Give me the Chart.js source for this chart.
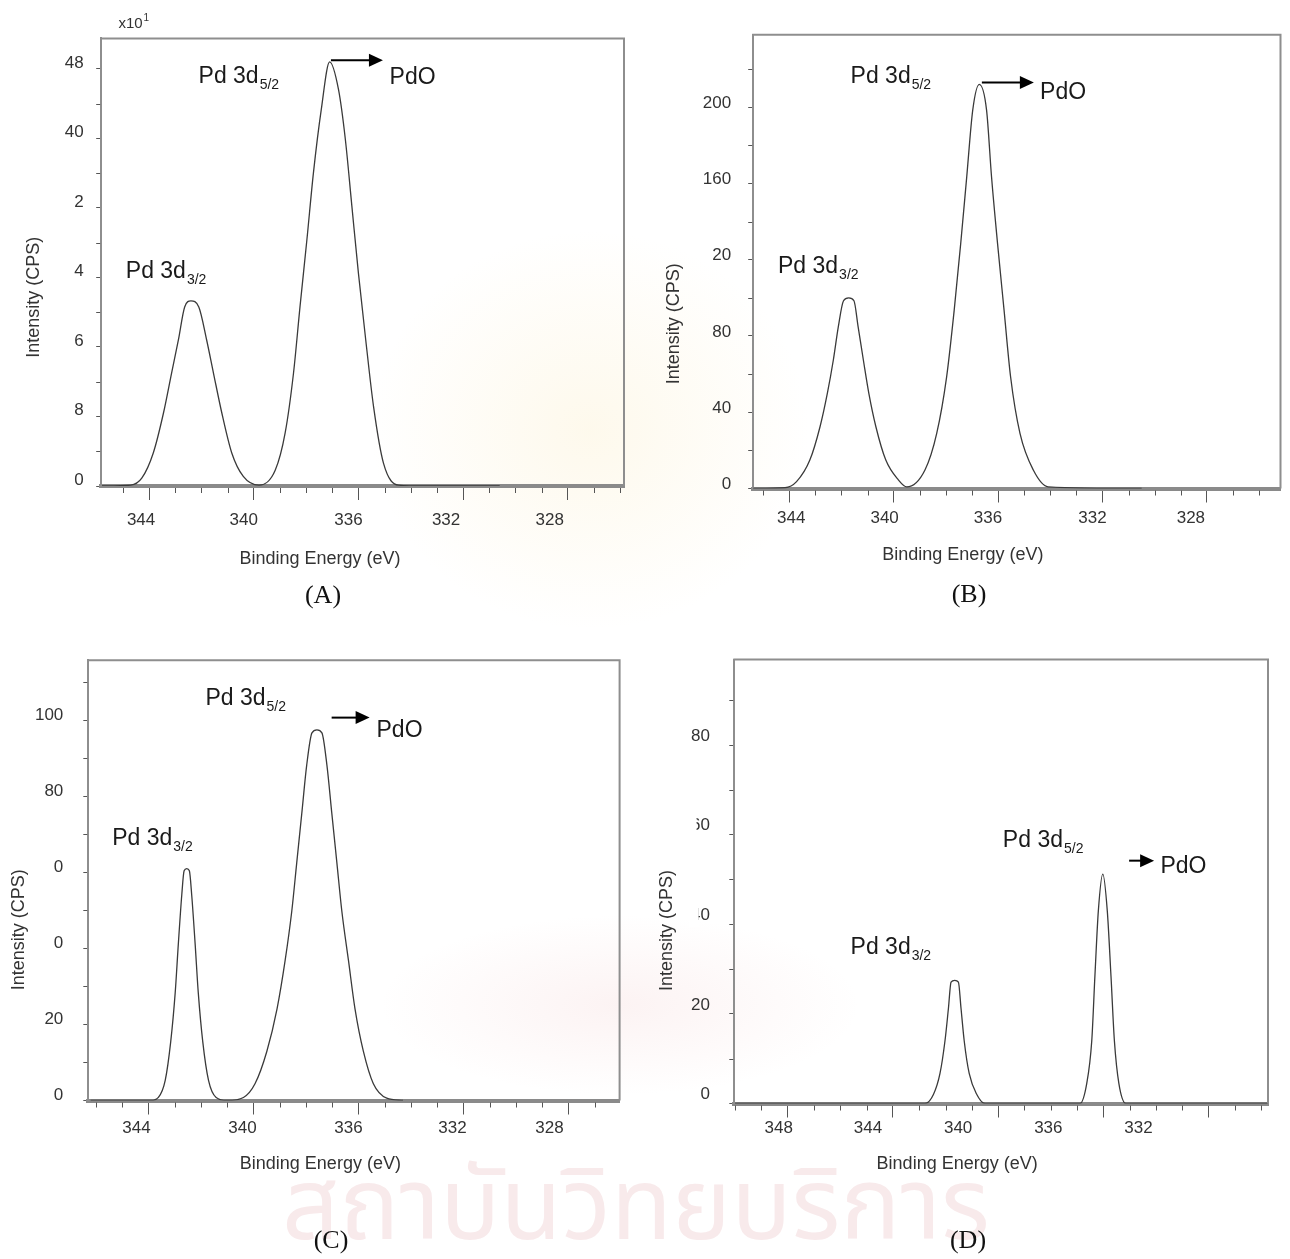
<!DOCTYPE html>
<html lang="en">
<head>
<meta charset="utf-8">
<title>Pd 3d XPS spectra</title>
<script src="https://cdn.jsdelivr.net/npm/chart.js@4.4.1/dist/chart.umd.min.js"></script>
<style>
  html, body { margin: 0; padding: 0; background: #fff; }
  #page {
    position: relative; width: 1290px; height: 1259px; overflow: hidden;
    background:
      radial-gradient(ellipse 220px 200px at 590px 430px, rgba(248, 222, 150, 0.18), rgba(248, 222, 150, 0) 100%),
      radial-gradient(ellipse 240px 90px at 620px 1005px, rgba(235, 170, 170, 0.14), rgba(235, 170, 170, 0) 100%),
      #fff;
  }
  canvas { position: absolute; }
  .tag { position: absolute; transform: translate(-50%, -50%); font: 26px "Liberation Serif", "Times New Roman", serif; color: #111; }
  .wm { position: absolute; left: 282px; top: 1133px; font: 100px "Noto Sans Thai", "Noto Sans", sans-serif; color: #f8eaeb; white-space: nowrap; }
</style>
</head>
<body>
<div id="page">
  <div class="wm">สถาบันวิทยบริการ</div>
  <canvas id="chartA" width="640" height="620" style="left:0;top:0"></canvas>
  <canvas id="chartB" width="645" height="620" style="left:645px;top:0"></canvas>
  <canvas id="chartC" width="640" height="629" style="left:0;top:630px"></canvas>
  <canvas id="chartD" width="645" height="629" style="left:645px;top:630px"></canvas>
  <div class="tag" style="left:323px;top:595px">(A)</div>
  <div class="tag" style="left:969px;top:594px">(B)</div>
  <div class="tag" style="left:331px;top:1240px">(C)</div>
  <div class="tag" style="left:968px;top:1240px">(D)</div>
</div>
<script>
const FONT = '"Liberation Sans", Arial, sans-serif';

// (A)  intensity in units of x10 CPS
const aEnergy = [345.8, 344.7, 344.28, 343.84, 343.45, 343.14, 342.88, 342.64, 342.4, 342.1, 341.8, 341.54, 341.22, 340.84, 340.4, 339.8,
  339.18, 338.8, 338.48, 338.23, 337.97, 337.72, 337.42, 337.1, 336.76, 336.5, 336.25, 336.0, 335.72, 335.42, 335.04, 334.47, 333.5, 330.6];
const aCounts = [0, 0.1, 0.9, 3.8, 8.4, 13.0, 16.8, 20.6, 21.3, 20.6, 16.8, 13.0, 8.4, 3.8, 1.1, 0.1,
  1.8, 6.1, 13.0, 20.7, 28.3, 36.0, 43.3, 48.8, 45.6, 39.9, 32.2, 24.5, 16.8, 9.1, 2.6, 0.1, 0, 0];
const aXTicks = [344, 340, 336, 332, 328];
const aYTicks = [0, 8, 16, 24, 32, 40, 48];
const aYLabels = ['0', '8', '6', '4', '2', '40', '48'];   // first digits are cut off in the original

// (B)
const bEnergy = [345.4, 344.16, 343.72, 343.21, 342.82, 342.54, 342.31, 342.12, 341.92, 341.72, 341.52, 341.36, 341.16, 340.95, 340.68, 340.3, 339.82, 339.5,
  338.8, 338.35, 337.97, 337.68, 337.43, 337.2, 336.97, 336.72, 336.44, 336.25, 336.02, 335.77, 335.52, 335.16, 334.65, 334.08, 330.5];
const bCounts = [0, 0.4, 3.6, 14.9, 32.4, 49.9, 67.4, 84.8, 98.5, 100, 98.5, 84.8, 67.4, 49.9, 32.4, 14.9, 4.5, 0.8,
  9.7, 28.9, 58.6, 93.6, 128.6, 163.5, 198.5, 212, 198.5, 163.5, 128.6, 93.6, 58.6, 28.9, 9.7, 0.9, 0];
const bXTicks = [344, 340, 336, 332, 328];
const bYTicks = [0, 40, 80, 120, 160, 200];
const bYLabels = ['0', '40', '80', '20', '160', '200'];

// (C)
const cEnergy = [346.2, 343.9, 343.62, 343.36, 343.15, 342.98, 342.86, 342.73, 342.64, 342.54, 342.44, 342.35, 342.22, 342.1, 341.93, 341.71, 341.42, 341.0,
  340.38, 339.94, 339.49, 339.1, 338.79, 338.54, 338.35, 338.16, 337.97, 337.77, 337.58, 337.39, 337.2, 337.01, 336.82, 336.63, 336.38, 336.13, 335.81, 335.43, 334.92, 334.3];
const cCounts = [0, 0, 0.8, 5.3, 15.5, 28.3, 41.2, 54, 60.4, 61, 60.4, 54, 41.2, 28.3, 15.5, 5.3, 0.8, 0,
  0.8, 4.4, 12.9, 24.1, 36.9, 49.7, 62.5, 75.3, 88.2, 96.7, 97.5, 96.7, 88.2, 75.3, 62.5, 49.7, 36.9, 24.1, 12.9, 4.4, 0.6, 0];
const cXTicks = [344, 340, 336, 332, 328];
const cYTicks = [0, 20, 40, 60, 80, 100];
const cYLabels = ['0', '20', '0', '0', '80', '100'];

// (D)
const dEnergy = [350.0, 342.78, 342.46, 342.21, 342.02, 341.89, 341.79, 341.65, 341.51, 341.41, 341.29, 341.1, 340.81, 340.5,
  336.89, 336.63, 336.44, 336.32, 336.19, 336.02, 335.85, 335.71, 335.58, 335.41, 335.14, 329.7];
const dCounts = [0, 0, 2.0, 6.7, 14.0, 21.2, 27.1, 27.5, 27.1, 21.2, 14.0, 6.7, 2.0, 0,
  0, 4.5, 14.0, 28.5, 43.0, 51.2, 43.0, 28.5, 14.0, 4.5, 0, 0];
const dXTicks = [348, 344, 340, 336, 332];
const dYTicks = [0, 20, 40, 60, 80];
const dYLabels = ['0', '20', '40', '60', '80'];

// frame, minor ticks, x labels, axis titles and peak notes
const decor = {
  id: 'decor',
  afterDraw(chart, args, o) {
    const { ctx, chartArea: a } = chart;
    const x = chart.scales.x, y = chart.scales.y;
    ctx.save();
    ctx.strokeStyle = '#8e8e8e';
    ctx.lineWidth = 2;
    ctx.beginPath();
    ctx.moveTo(a.left - 1, a.top);
    ctx.lineTo(a.right, a.top);
    ctx.lineTo(a.right, a.bottom);
    ctx.stroke();

    ctx.strokeStyle = '#555';
    ctx.lineWidth = 1;
    ctx.beginPath();
    for (let v = Math.ceil(x.min); v <= x.max; v++) {
      if (v % 4 === 0) continue;
      const px = Math.round(x.getPixelForValue(v)) + 0.5;
      ctx.moveTo(px, a.bottom + 2);
      ctx.lineTo(px, a.bottom + 7);
    }
    for (let v = o.yMinor; v < y.max; v += 2 * o.yMinor) {
      const py = Math.round(y.getPixelForValue(v)) + 0.5;
      ctx.moveTo(a.left - 1, py);
      ctx.lineTo(a.left - 5, py);
    }
    ctx.stroke();

    // tick labels partly wiped out in the original
    (o.mask || []).forEach(m => {
      ctx.font = '17px ' + FONT;
      const right = a.left - 5 - o.yPad;
      const full = ctx.measureText(String(m.v)).width;
      const first = ctx.measureText(String(m.v)[0]).width;
      const py = y.getPixelForValue(m.v) + o.yShift;
      ctx.fillStyle = '#fff';
      ctx.fillRect(right - full - 2, py - 12, first - m.keep + 2, 24);
    });

    // x tick labels sit a little left of their ticks in the original
    ctx.fillStyle = '#333';
    ctx.font = '17px ' + FONT;
    ctx.textAlign = 'center';
    ctx.textBaseline = 'middle';
    o.xTicks.forEach((v, i) => {
      ctx.fillText(String(v), x.getPixelForValue(v) + o.xShift[i], a.bottom + o.xLabelDy);
    });

    ctx.font = '18px ' + FONT;
    ctx.fillText('Binding Energy (eV)', (a.left + a.right) / 2 + o.xTitle[0], a.bottom + o.xTitle[1]);
    ctx.save();
    ctx.translate(a.left + o.yTitle[0], (a.top + a.bottom) / 2 + o.yTitle[1]);
    ctx.rotate(-Math.PI / 2);
    ctx.fillText('Intensity (CPS)', 0, 0);
    ctx.restore();

    ctx.textAlign = 'left';
    ctx.textBaseline = 'alphabetic';
    ctx.fillStyle = '#1a1a1a';
    o.labels.forEach(l => {
      const px = x.getPixelForValue(l.e), py = y.getPixelForValue(l.i);
      ctx.font = '23px ' + FONT;
      ctx.fillText(l.text, px, py);
      if (l.sub) {
        const w = ctx.measureText(l.text).width;
        ctx.font = '14px ' + FONT;
        ctx.fillText(l.sub, px + w + 1, py + 6);
      }
    });

    const ar = o.arrow;
    const ax = x.getPixelForValue(ar.e), ay = y.getPixelForValue(ar.i);
    ctx.strokeStyle = '#000';
    ctx.fillStyle = '#000';
    ctx.lineWidth = 2;
    ctx.beginPath();
    ctx.moveTo(ax, ay);
    ctx.lineTo(ax + ar.len - 12, ay);
    ctx.stroke();
    ctx.beginPath();
    ctx.moveTo(ax + ar.len, ay);
    ctx.lineTo(ax + ar.len - 14, ay - 6.5);
    ctx.lineTo(ax + ar.len - 14, ay + 6.5);
    ctx.closePath();
    ctx.fill();

    if (o.corner) {
      const c = o.corner;
      ctx.fillStyle = '#333';
      ctx.font = '15px ' + FONT;
      ctx.fillText(c.text, a.left + c.dx, a.top + c.dy);
      const w = ctx.measureText(c.text).width;
      ctx.font = '10px ' + FONT;
      ctx.fillText(c.sup, a.left + c.dx + w + 1, a.top + c.dy - 7);
    }
    ctx.restore();
  }
};

function makeChart(p) {
  const pts = p.energy.map((e, i) => ({ x: e, y: p.counts[i] }));
  return new Chart(document.getElementById(p.id), {
    type: 'line',
    data: {
      datasets: [{
        data: pts,
        borderColor: '#3a3a3a',
        borderWidth: 1.3,
        pointRadius: 0,
        cubicInterpolationMode: 'monotone',
        fill: false
      }]
    },
    options: {
      responsive: false,
      animation: false,
      events: [],
      layout: { padding: { top: p.box.top, right: p.box.right, left: 0, bottom: 0 } },
      scales: {
        x: {
          type: 'linear',
          reverse: true,
          min: p.xMin,
          max: p.xMax,
          afterBuildTicks: s => { s.ticks = p.xTicks.map(v => ({ value: v })); },
          afterFit: s => { s.height = p.box.xh; },
          ticks: { display: false },
          grid: { drawOnChartArea: false, tickLength: 14, tickColor: '#555', tickWidth: 1 },
          border: { color: '#8a8a8a', width: 4 }
        },
        y: {
          type: 'linear',
          min: 0,
          max: p.yMax,
          afterBuildTicks: s => { s.ticks = p.yTicks.map(v => ({ value: v })); },
          afterFit: s => { s.width = p.box.yw; },
          ticks: {
            autoSkip: false,
            callback: (v, i) => p.yLabels[i],
            font: { size: 17, family: FONT },
            color: '#333',
            padding: p.yPad,
            labelOffset: p.yShift
          },
          grid: { drawOnChartArea: false, tickLength: 5, tickColor: '#555', tickWidth: 1 },
          border: { color: '#8e8e8e', width: 2 }
        }
      },
      plugins: {
        legend: { display: false },
        tooltip: { enabled: false },
        decor: p
      }
    },
    plugins: [decor]
  });
}

makeChart({
  id: 'chartA', energy: aEnergy, counts: aCounts, xTicks: aXTicks, yTicks: aYTicks, yLabels: aYLabels,
  xMin: 325.85, xMax: 345.83, yMax: 51.5,
  box: { yw: 101.2, top: 38.4, right: 16, xh: 134 },
  yPad: 12.5, yShift: -6, xLabelDy: 34, xShift: [-8, -10, -10, -17, -18],
  yMinor: 4,
  xTitle: [-42.6, 72.7], yTitle: [-67.2, 35],
  labels: [
    { e: 342.11, i: 46.4, text: 'Pd 3d', sub: '5/2' },
    { e: 344.89, i: 23.96, text: 'Pd 3d', sub: '3/2' },
    { e: 334.81, i: 46.3, text: 'PdO' }
  ],
  arrow: { e: 337.05, i: 49.0, len: 52 },
  corner: { text: 'x10', sup: '1', dx: 17.2, dy: -10.7 }
});

makeChart({
  id: 'chartB', energy: bEnergy, counts: bCounts, xTicks: bXTicks, yTicks: bYTicks, yLabels: bYLabels,
  xMin: 325.18, xMax: 345.38, yMax: 238,
  box: { yw: 108.2, top: 34.8, right: 9.5, xh: 131.5 },
  yPad: 17, yShift: -4, xLabelDy: 30, xShift: [2, -9, -10, -10, -16],
  yMinor: 20,
  xTitle: [-54, 67], yTitle: [-78.7, 62],
  labels: [
    { e: 341.65, i: 212.6, text: 'Pd 3d', sub: '5/2' },
    { e: 344.43, i: 113.1, text: 'Pd 3d', sub: '3/2' },
    { e: 334.39, i: 204.3, text: 'PdO' }
  ],
  arrow: { e: 336.62, i: 213, len: 52 }
});

makeChart({
  id: 'chartC', energy: cEnergy, counts: cCounts, xTicks: cXTicks, yTicks: cYTicks, yLabels: cYLabels,
  xMin: 326.05, xMax: 346.29, yMax: 115.8,
  box: { yw: 88.3, top: 20, right: 20.4, xh: 158.5 },
  yPad: 20, yShift: -5, xLabelDy: 28, xShift: [-12, -11, -10, -11, -19],
  yMinor: 10,
  xTitle: [-33.6, 63.5], yTitle: [-68.9, 49.3],
  labels: [
    { e: 341.83, i: 103.9, text: 'Pd 3d', sub: '5/2' },
    { e: 345.38, i: 67.3, text: 'Pd 3d', sub: '3/2' },
    { e: 335.31, i: 95.7, text: 'PdO' }
  ],
  arrow: { e: 337.02, i: 100.7, len: 38 }
});

makeChart({
  id: 'chartD', energy: dEnergy, counts: dCounts, xTicks: dXTicks, yTicks: dYTicks, yLabels: dYLabels,
  xMin: 329.74, xMax: 350.03, yMax: 99.1,
  box: { yw: 89.3, top: 19.3, right: 22, xh: 155.5 },
  yPad: 19.3, yShift: -9, xLabelDy: 25, xShift: [-9, -25, -40, -55, -70],
  yMinor: 10,
  xTitle: [-44, 60.5], yTitle: [-66.8, 49],
  labels: [
    { e: 339.82, i: 57.2, text: 'Pd 3d', sub: '5/2' },
    { e: 345.61, i: 33.3, text: 'Pd 3d', sub: '3/2' },
    { e: 333.83, i: 51.4, text: 'PdO' }
  ],
  arrow: { e: 335.02, i: 54.2, len: 25 },
  mask: [{ v: 60, keep: 4 }, { v: 40, keep: 2 }]
});
</script>
</body>
</html>
